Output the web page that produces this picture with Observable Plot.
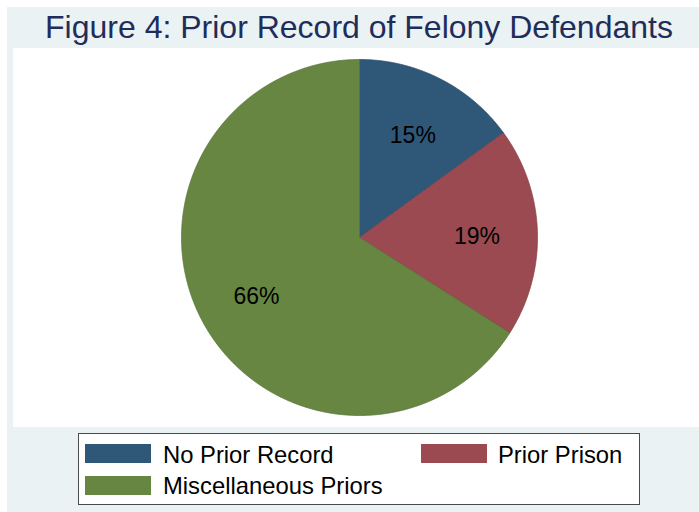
<!DOCTYPE html>
<html><head><meta charset="utf-8">
<script src="https://cdn.jsdelivr.net/npm/d3@7"></script>
<script src="https://cdn.jsdelivr.net/npm/@observablehq/plot@0.6"></script>
<style>
body{margin:0;background:#fff;font-family:"Liberation Sans",Arial,sans-serif;}
#frame{position:absolute;left:7px;top:7px;width:692px;height:505px;background:#eaf2f3;}
#title{position:absolute;left:0;width:718px;top:11px;text-align:center;font-size:32px;line-height:32px;color:#1f2d5b;white-space:nowrap;}
#panel{position:absolute;left:13px;top:48px;width:686px;height:379px;background:#fff;}
#legend{position:absolute;left:78px;top:433px;width:562px;height:72px;box-sizing:border-box;background:#fff;border:1px solid #4a4a4a;}
.sw{position:absolute;width:66px;height:19px;}
.lt{position:absolute;font-size:23.8px;line-height:24px;color:#000;white-space:nowrap;}
</style></head>
<body>
<div id="frame"></div>
<div id="title"></div>
<div id="panel"></div>
<div id="legend"></div>
<script>
const title = "Figure 4: Prior Record of Felony Defendants";
const categories = ["No Prior Record", "Prior Prison", "Miscellaneous Priors"];
const shares = [15, 19, 66];
const sliceLabels = ["15%", "19%", "66%"];
const colors = ["#2f5778", "#9b4a51", "#678641"];

document.getElementById("title").textContent = title;

// layout
const W = 686, H = 379, cx = 346, cy = 189, R = 178;

const arcs = d3.pie().sort(null).value(d => d)(shares);
const slices = arcs.map((a, i) => {
  const pts = [{x: 0, y: 0}];
  const n = Math.ceil((a.endAngle - a.startAngle) / 0.004);
  for (let k = 0; k <= n; k++) {
    const t = a.startAngle + (a.endAngle - a.startAngle) * k / n;
    pts.push({x: Math.sin(t), y: Math.cos(t)});
  }
  pts.push({x: 0, y: 0});
  return {cat: categories[i], color: colors[i], pts};
});
const labelData = arcs.map((a, i) => {
  const m = (a.startAngle + a.endAngle) / 2;
  return {x: 0.66 * Math.sin(m), y: 0.66 * Math.cos(m), label: sliceLabels[i]};
});

const chart = Plot.plot({
  width: W, height: H,
  margin: 0,
  x: {domain: [-cx / R, (W - cx) / R], axis: null},
  y: {domain: [-(H - cy) / R, cy / R], axis: null},
  style: {background: "#fff", fontFamily: "Liberation Sans, Arial, sans-serif"},
  marks: [
    ...slices.map(s => Plot.line(s.pts, {x: "x", y: "y", fill: s.color, stroke: d3.color(s.color).darker(0.4).formatHex(), strokeWidth: 0.8, strokeLinejoin: "miter"})),
    Plot.text(labelData, {x: "x", y: "y", text: "label", fontSize: 23, fill: "#000", textAnchor: "middle", lineAnchor: "middle", dy: 3})
  ]
});
document.getElementById("panel").appendChild(chart);

// legend
const legend = document.getElementById("legend");
const pos = [
  {sl: 6, st: 10, tl: 84, tt: 9},
  {sl: 342, st: 10, tl: 419, tt: 9},
  {sl: 6, st: 42, tl: 84, tt: 40}
];
categories.forEach((c, i) => {
  const sw = document.createElement("div");
  sw.className = "sw";
  sw.style.left = pos[i].sl + "px"; sw.style.top = pos[i].st + "px";
  sw.style.background = colors[i];
  legend.appendChild(sw);
  const t = document.createElement("div");
  t.className = "lt";
  t.style.left = pos[i].tl + "px"; t.style.top = pos[i].tt + "px";
  t.textContent = c;
  legend.appendChild(t);
});
</script>
</body></html>
